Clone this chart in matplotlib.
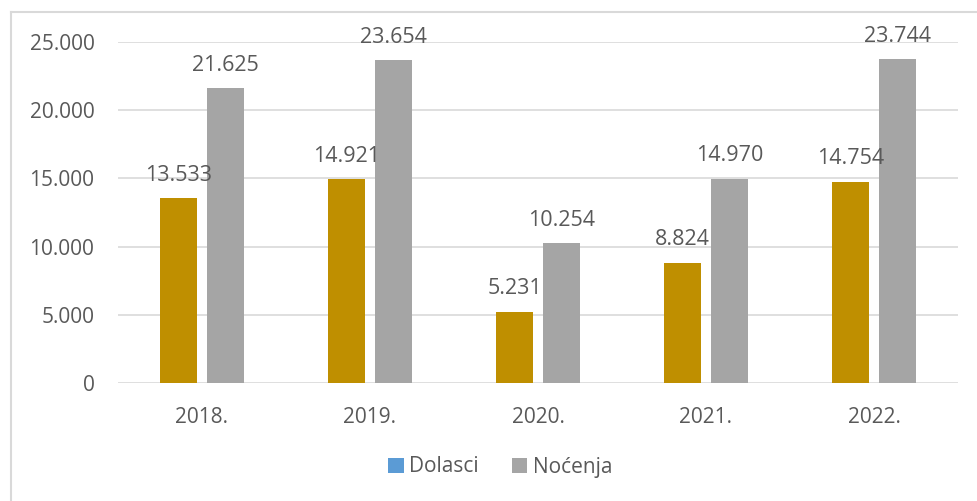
import matplotlib
matplotlib.use("Agg")
import matplotlib.pyplot as plt
import numpy as np
from matplotlib.patches import Patch
from matplotlib.lines import Line2D

years = ["2018.", "2019.", "2020.", "2021.", "2022."]
dolasci = [13533, 14921, 5231, 8824, 14754]
nocenja = [21625, 23654, 10254, 14970, 23744]
yticks = [0, 5000, 10000, 15000, 20000, 25000]

def fmt(v):
    return f"{v:,}".replace(",", ".")

plt.rcParams['font.family'] = ['Open Sans', 'DejaVu Sans']
txt = '#595959'
grid = '#D9D9D9'

fig = plt.figure(figsize=(9.77, 5.01), dpi=100)
ax = fig.add_axes([118/977, 1-383/501, 840/977, (383-42)/501])

x = np.arange(len(years))
w = 0.22
off = 0.03 + w/2
b1 = ax.bar(x - off, dolasci, w, color='#BF8F00', zorder=3)
b2 = ax.bar(x + off, nocenja, w, color='#A5A5A5', zorder=3)

for bars, vals in ((b1, dolasci), (b2, nocenja)):
    for r, v in zip(bars, vals):
        ax.annotate(fmt(v), (r.get_x() + r.get_width()/2, v), xytext=(0, 9),
                    textcoords='offset points', ha='center', va='bottom',
                    fontsize=15.5, color=txt)

ax.set_xlim(-0.5, len(years) - 0.5)
ax.set_ylim(0, 25000)
ax.set_yticks(yticks)
ax.set_yticklabels([fmt(v) for v in yticks], fontsize=15, color=txt)
ax.set_xticks(x)
ax.set_xticklabels(years, fontsize=15, color=txt)
ax.tick_params(axis='both', length=0)
ax.tick_params(axis='y', pad=17)
ax.tick_params(axis='x', pad=17)
ax.grid(axis='y', color=grid, linewidth=1.2, zorder=0)
for s in ax.spines.values():
    s.set_visible(False)

handles = [Patch(facecolor='#5B9BD5', label='Dolasci'),
           Patch(facecolor='#A5A5A5', label='Noćenja')]
fig.legend(handles=handles, loc='center', bbox_to_anchor=(500/977, 1-467/501),
           ncol=2, frameon=False, fontsize=15, handlelength=0.75, handleheight=0.75,
           handletextpad=0.25, columnspacing=1.6, labelcolor=txt)

fig.add_artist(Line2D([11/977, 11/977], [0, 1-12/501], transform=fig.transFigure,
                      color=grid, linewidth=1.5))
fig.add_artist(Line2D([11/977, 1], [1-12/501, 1-12/501], transform=fig.transFigure,
                      color=grid, linewidth=1.5))

fig.savefig("out.png", dpi=100)
